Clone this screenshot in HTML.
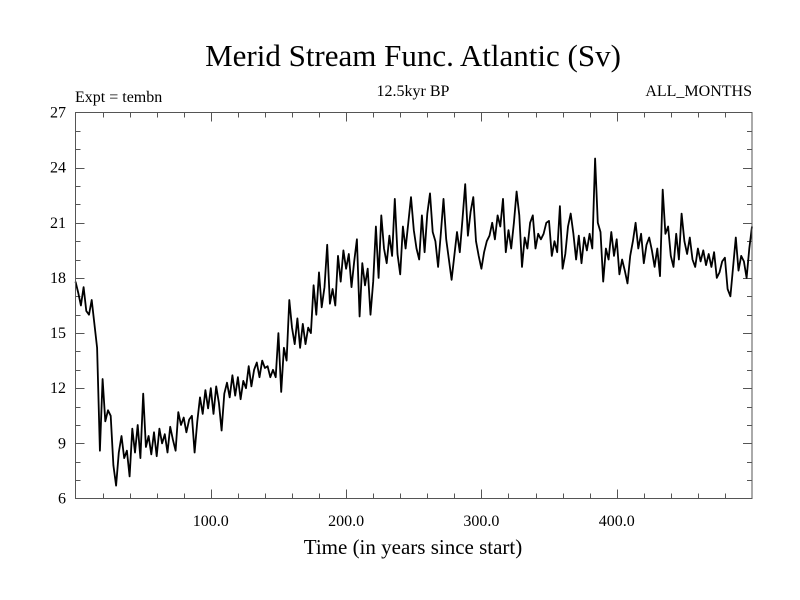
<!DOCTYPE html>
<html><head><meta charset="utf-8"><style>
body{margin:0;background:#fff}
svg{display:block;font-family:"Liberation Serif",serif}
</style></head><body>
<svg id="chart" width="800" height="600" viewBox="0 0 800 600">
<rect x="0" y="0" width="800" height="600" fill="#fff"/>
<text x="413" y="66" font-size="31" text-anchor="middle">Merid Stream Func. Atlantic (Sv)</text>
<text x="75" y="102" font-size="16">Expt = tembn</text>
<text x="413" y="96" font-size="16" text-anchor="middle">12.5kyr BP</text>
<text x="752" y="96" font-size="16" text-anchor="end">ALL_MONTHS</text>
<text x="413" y="554" font-size="21" text-anchor="middle">Time (in years since start)</text>
<g id="axes"></g>
<path id="series" fill="none" stroke="#000" stroke-width="1.8" stroke-linejoin="round"/>
<rect x="75.5" y="112.5" width="676.5" height="386" fill="none" stroke="#555" stroke-width="1"/>
</svg>
<script>
const values = [
17.8,17.2,16.5,17.5,16.2,
16.0,16.8,15.5,14.2,8.6,
12.5,10.2,10.8,10.5,7.8,
6.7,8.5,9.4,8.2,8.6,
7.2,9.8,8.5,10.0,8.2,
11.7,8.8,9.4,8.4,9.6,
8.3,9.8,9.0,9.5,8.5,
9.9,9.2,8.6,10.7,10.0,
10.4,9.6,10.3,10.5,8.5,
10.2,11.5,10.6,11.9,10.9,
12.0,10.6,12.1,11.2,9.7,
11.7,12.3,11.5,12.7,11.6,
12.6,11.4,12.4,12.0,13.2,
12.1,13.0,13.4,12.6,13.5,
13.1,13.2,12.6,13.0,12.6,
15.0,11.8,14.2,13.5,16.8,
15.3,14.4,15.8,14.2,15.5,
14.4,15.3,15.0,17.6,16.0,
18.3,16.4,17.5,19.8,16.6,
17.4,16.5,19.2,17.8,19.5,
18.5,19.3,17.5,18.9,20.1,
15.9,18.8,17.6,18.5,16.0,
17.8,20.8,18.0,21.4,19.6,
18.8,20.3,19.2,22.3,19.3,
18.2,20.8,19.6,21.0,22.4,
20.6,19.6,19.0,21.4,19.4,
21.5,22.6,20.5,20.0,18.6,
20.4,22.3,20.1,19.0,17.9,
19.2,20.5,19.4,21.2,23.1,
20.3,21.6,22.4,20.0,19.2,
18.5,19.4,20.0,20.3,21.0,
20.1,21.4,20.8,22.3,19.4,
20.6,19.6,21.0,22.7,21.4,
18.6,20.2,19.6,21.0,21.4,
19.6,20.4,20.1,20.4,21.0,
21.1,19.2,20.0,19.4,21.9,
18.5,19.3,20.8,21.5,20.4,
19.0,20.3,18.8,20.2,19.5,
20.4,19.6,24.5,21.0,20.5,
17.8,19.6,19.0,20.5,19.2,
20.1,18.2,19.0,18.4,17.7,
19.2,20.0,21.0,19.6,20.4,
18.8,19.8,20.2,19.5,18.6,
19.6,18.1,22.8,20.4,20.8,
19.2,18.6,20.4,19.0,21.5,
20.0,19.3,20.2,19.0,18.6,
19.6,18.9,19.5,18.7,19.3,
18.6,19.4,18.0,18.3,18.9,
19.1,17.4,17.0,18.6,20.2,
18.4,19.2,18.9,18.0,19.6,
20.8];
const yearStep = 2;
const xTickValues = [100,200,300,400];
const xTickLabels = ["100.0","200.0","300.0","400.0"];
const yTickValues = [6,9,12,15,18,21,24,27];
const yTickLabels = ["6","9","12","15","18","21","24","27"];

const X0=75.5,X1=752,Y0=498.5,Y1=112.5;
const xMin=0,xMax=500,yMin=6,yMax=27;
const sx=v=>X0+(v-xMin)/(xMax-xMin)*(X1-X0);
const sy=v=>Y0-(v-yMin)/(yMax-yMin)*(Y0-Y1);
const NS="http://www.w3.org/2000/svg";
const axes=document.getElementById('axes');
function line(x1,y1,x2,y2,name){
  const l=document.createElementNS(NS,'line');
  l.setAttribute('x1',x1);l.setAttribute('y1',y1);l.setAttribute('x2',x2);l.setAttribute('y2',y2);
  l.setAttribute('stroke','#555');l.setAttribute('stroke-width','1');
  
  
  axes.appendChild(l);
}
function text(x,y,s,anchor,name){
  const t=document.createElementNS(NS,'text');
  t.setAttribute('x',x);t.setAttribute('y',y);t.setAttribute('font-size','16');
  t.setAttribute('text-anchor',anchor);t.textContent=s;
  
  
  axes.appendChild(t);
}
for(let v=20;v<500;v+=20){
  const major=v%100===0, len=major?9:5, x=Math.round(sx(v))+0.5;
  line(x,Y0,x,Y0-len,'x-tick');
  line(x,Y1,x,Y1+len,'x-tick-top');
}
for(let v=7;v<27;v++){
  const major=v%3===0, len=major?9:5, y=Math.round(sy(v))+0.5;
  line(X0,y,X0+len,y,'y-tick');
  line(X1,y,X1-len,y,'y-tick-right');
}
xTickValues.forEach((v,i)=>text(sx(v),526,xTickLabels[i],'middle','x-tick-label'));
yTickValues.forEach((v,i)=>text(66,sy(v)+5,yTickLabels[i],'end','y-tick-label'));
let d='';
values.forEach((v,i)=>{d+=(i?'L':'M')+sx(i*yearStep).toFixed(1)+' '+sy(v).toFixed(1);});
document.getElementById('series').setAttribute('d',d);
</script>
</body></html>
